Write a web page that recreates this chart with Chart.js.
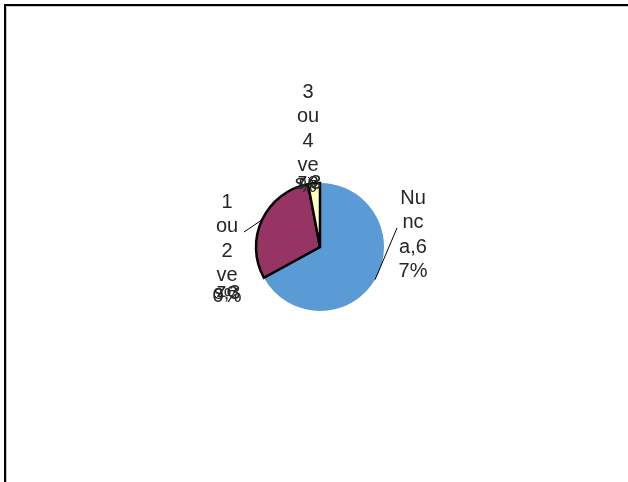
<!DOCTYPE html>
<html>
<head>
<meta charset="utf-8">
<script src="https://cdn.jsdelivr.net/npm/chart.js@4"></script>
<style>
    html, body { margin: 0; padding: 0; background: #fff; }
    #wrap { width: 628px; height: 482px; }
</style>
</head>
<body>
<div id="wrap"><canvas id="pieChart" width="628" height="482"></canvas></div>
<script>
const categories = ["Nunca", "1 ou 2 vezes", "3 ou 4 vezes"];
const percentages = [67, 30, 3];
const sliceColors = ["#5B9BD5", "#963464", "#FFFFC4"];

// where each wrapped label sits, relative to the pie centre
const labelPlacement = [
    { dx: 93, dy: -49, lineX: 77, lineY: -19 },
    { dx: -93, dy: -45, lineX: -76, lineY: -15 },
    { dx: -12, dy: -155, lineX: -12, lineY: -70 }
];

const labelFont = "20px 'Liberation Sans', Arial, sans-serif";
const wrapWidth = 30;
const lineHeight = 24.5;
const cleanLines = 4;

function wrapText(ctx, text, maxWidth){
    const lines = [];
    const words = text.split(" ");
    let current = "";
    words.forEach((word) => {
        const test = current ? current + " " + word : word;
        if(ctx.measureText(test).width <= maxWidth){
            current = test;
            return;
        }
        if(current){
            lines.push(current);
        }
        current = "";
        for(const ch of word){
            if(current && ctx.measureText(current + ch).width > maxWidth){
                lines.push(current);
                current = ch;
            }else{
                current += ch;
            }
        }
    });
    if(current){
        lines.push(current);
    }
    return lines;
}

const framePlugin = {
    id: "frame",
    beforeDraw(chart){
        const ctx = chart.ctx;
        ctx.save();
        ctx.fillStyle = "#fff";
        ctx.fillRect(0, 0, chart.width, chart.height);
        ctx.fillStyle = "#c8c8c8";
        ctx.fillRect(6, 6, chart.width, 1);
        ctx.fillRect(6, 6, 1, chart.height);
        ctx.fillStyle = "#000";
        ctx.fillRect(4, 4, chart.width, 2);
        ctx.fillRect(4, 4, 2, chart.height);
        ctx.restore();
    }
};

const pieLabelsPlugin = {
    id: "pieLabels",
    afterDatasetsDraw(chart){
        const ctx = chart.ctx;
        const meta = chart.getDatasetMeta(0);
        ctx.save();
        ctx.font = labelFont;
        ctx.fillStyle = "#262626";
        ctx.textAlign = "center";
        ctx.textBaseline = "middle";
        meta.data.forEach((arc, i) => {
            const p = arc.getProps(["x", "y", "startAngle", "endAngle", "outerRadius"], true);
            const mid = (p.startAngle + p.endAngle) / 2;
            const place = labelPlacement[i];
            // leader line
            ctx.strokeStyle = "#000";
            ctx.lineWidth = 1;
            ctx.beginPath();
            ctx.moveTo(p.x + Math.cos(mid) * p.outerRadius, p.y + Math.sin(mid) * p.outerRadius);
            ctx.lineTo(p.x + place.lineX, p.y + place.lineY);
            ctx.stroke();
            // wrapped text, the overflow lines get squashed on top of each other
            const text = categories[i] + "," + percentages[i] + "%";
            const lines = wrapText(ctx, text, wrapWidth);
            const tx = p.x + place.dx;
            const ty = p.y + place.dy;
            lines.forEach((line, k) => {
                let y;
                if(k < cleanLines){
                    y = ty + k * lineHeight;
                }else{
                    y = ty + cleanLines * lineHeight - 9 + (k - cleanLines) * 2.5;
                }
                ctx.fillText(line, tx, y);
            });
        });
        ctx.restore();
    }
};

const ctx = document.getElementById("pieChart").getContext("2d");
new Chart(ctx, {
    type: "pie",
    data: {
        labels: categories,
        datasets: [
            {
                data: percentages,
                backgroundColor: sliceColors,
                borderColor: ["rgba(0,0,0,0)", "#000", "#000"],
                borderWidth: [0, 2.5, 2.5],
                borderJoinStyle: "miter"
            }
        ]
    },
    options: {
        responsive: false,
        animation: false,
        radius: 64,
        layout: {
            padding: { left: 112, right: 100, top: 112, bottom: 100 }
        },
        plugins: {
            legend: { display: false },
            tooltip: { enabled: false }
        }
    },
    plugins: [framePlugin, pieLabelsPlugin]
});
</script>
</body>
</html>
